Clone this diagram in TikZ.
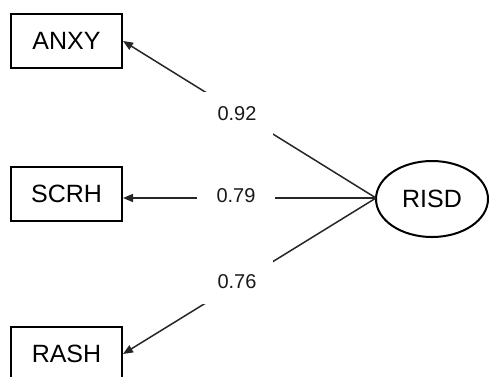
\documentclass[tikz,border=0pt]{standalone}
\usepackage{fontspec}
\setmainfont{Liberation Sans}
\usetikzlibrary{shapes.geometric,arrows.meta}
\tikzset{
  obsbox/.style={draw, line width=2pt, minimum width=111pt, minimum height=54pt, inner sep=0pt, font=\fontsize{25}{30}\selectfont},
  latent/.style={draw, ellipse, line width=2pt, minimum width=112pt, minimum height=76pt, inner sep=0pt, font=\fontsize{25}{30}\selectfont},
  path/.style={line width=1.5pt, draw=black!85, -{Triangle[length=10pt,width=8pt]}},
  coef/.style={fill=white, minimum width=72pt, minimum height=44pt, inner sep=0pt, font=\fontsize{20}{24}\selectfont, text=black!90}
}
\begin{document}
\begin{tikzpicture}[x=1pt,y=-1pt]
\useasboundingbox (0,0) rectangle (489,376);
\node[obsbox] (anxy) at (66.5,41) {ANXY};
\node[obsbox] (scrh) at (66.5,194) {SCRH};
\node[obsbox] (rash) at (66.5,354) {RASH};
\node[latent] (risd) at (432,199) {RISD};
\coordinate (src) at (376,198);
\draw[path] (src) -- (anxy.east);
\draw[path] (src) -- (scrh.east |- src);
\draw[path] (src) -- (rash.east);
\node[coef] (c1) at (237,114) {0.92};
\node[coef, minimum width=78pt, minimum height=20pt] (c2) at (236,196) {0.79};
\node[coef] (c3) at (237,282) {0.76};
\end{tikzpicture}
\end{document}
